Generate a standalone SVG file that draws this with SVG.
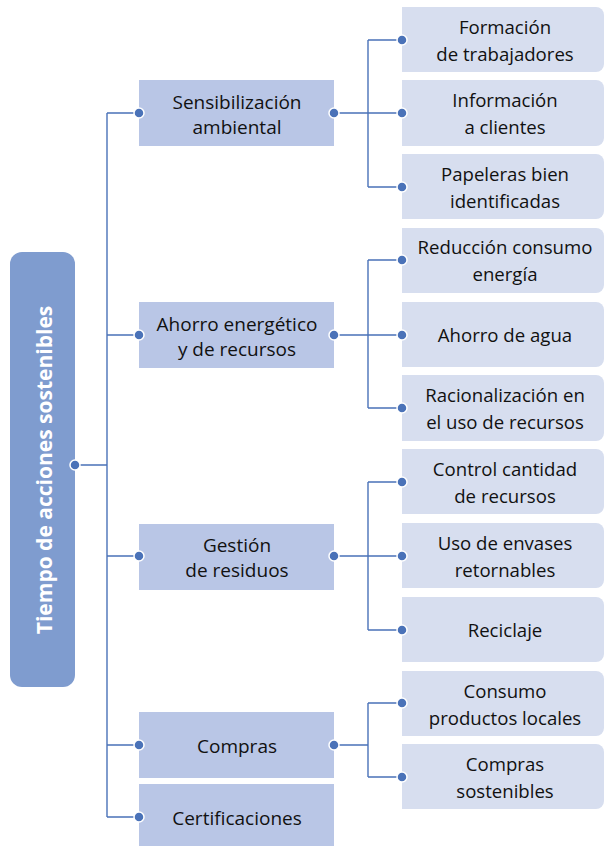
<svg xmlns="http://www.w3.org/2000/svg" width="604" height="846" viewBox="0 0 604 846">
<style>
.mid{fill:#b9c6e6}
.leaf{fill:#d7deef}
.t{font-family:"Open Sans","Liberation Sans",sans-serif;font-size:19px;fill:#111111;text-anchor:middle}
.lt{font-family:"Open Sans","Liberation Sans",sans-serif;font-size:18.6px;fill:#111111;text-anchor:middle}
.ln{fill:none;stroke:#4a72b8;stroke-width:1.4}
.dot{fill:#4a72b8;stroke:#ffffff;stroke-width:1.5}
</style>
<rect width="604" height="846" fill="#ffffff"/>
<g id="connectors">
<path class="ln" d="M75,465H107M107,113V817M107,113H139M107,335H139M107,556H139M107,745H139M107,817H139"/>
<path class="ln" d="M334,113H402M368,40V187M368,40H402M368,187H402"/>
<path class="ln" d="M334,335H402M368,260V408M368,260H402M368,408H402"/>
<path class="ln" d="M334,556H402M368,482V630M368,482H402M368,630H402"/>
<path class="ln" d="M334,745H368M368,703V777M368,703H402M368,777H402"/>
</g>
<g id="root">
<rect x="10" y="252" width="65" height="435" rx="12" fill="#7f9ccf"/>
<text transform="translate(51.5,470) rotate(-90)" style="font-family:'Open Sans','Liberation Sans',sans-serif;font-size:21px;font-weight:bold;fill:#ffffff;text-anchor:middle">Tiempo de acciones sostenibles</text>
<circle class="dot" cx="75" cy="465" r="5"/>
</g>
<g id="m1"><rect class="mid" x="139" y="80" width="195" height="66"/><text class="t" x="237" y="109">Sensibilización</text><text class="t" x="237" y="134">ambiental</text><circle class="dot" cx="139" cy="113" r="5"/><circle class="dot" cx="334" cy="113" r="5"/></g>
<g id="m2"><rect class="mid" x="139" y="302" width="195" height="66"/><text class="t" x="237" y="331">Ahorro energético</text><text class="t" x="237" y="356">y de recursos</text><circle class="dot" cx="139" cy="335" r="5"/><circle class="dot" cx="334" cy="335" r="5"/></g>
<g id="m3"><rect class="mid" x="139" y="524" width="195" height="66"/><text class="t" x="237" y="552">Gestión</text><text class="t" x="237" y="577">de residuos</text><circle class="dot" cx="139" cy="556" r="5"/><circle class="dot" cx="334" cy="556" r="5"/></g>
<g id="m4"><rect class="mid" x="139" y="712" width="195" height="66"/><text class="t" x="237" y="753">Compras</text><circle class="dot" cx="139" cy="745" r="5"/><circle class="dot" cx="334" cy="745" r="5"/></g>
<g id="m5"><rect class="mid" x="139" y="784" width="195" height="66"/><text class="t" x="237" y="825">Certificaciones</text><circle class="dot" cx="139" cy="817" r="5"/></g>
<g id="l1"><path class="leaf" d="M402,7H596A8,8 0 0 1 604,15V64A8,8 0 0 1 596,72H402Z"/><text class="lt" x="505" y="34">Formación</text><text class="lt" x="505" y="61">de trabajadores</text><circle class="dot" cx="402" cy="40" r="5"/></g>
<g id="l2"><path class="leaf" d="M402,80H596A8,8 0 0 1 604,88V138A8,8 0 0 1 596,146H402Z"/><text class="lt" x="505" y="107">Información</text><text class="lt" x="505" y="134">a clientes</text><circle class="dot" cx="402" cy="113" r="5"/></g>
<g id="l3"><path class="leaf" d="M402,154H596A8,8 0 0 1 604,162V211A8,8 0 0 1 596,219H402Z"/><text class="lt" x="505" y="181">Papeleras bien</text><text class="lt" x="505" y="208">identificadas</text><circle class="dot" cx="402" cy="187" r="5"/></g>
<g id="l4"><path class="leaf" d="M402,228H596A8,8 0 0 1 604,236V285A8,8 0 0 1 596,293H402Z"/><text class="lt" x="505" y="254">Reducción consumo</text><text class="lt" x="505" y="281">energía</text><circle class="dot" cx="402" cy="260" r="5"/></g>
<g id="l5"><path class="leaf" d="M402,302H596A8,8 0 0 1 604,310V359A8,8 0 0 1 596,367H402Z"/><text class="lt" x="505" y="342">Ahorro de agua</text><circle class="dot" cx="402" cy="335" r="5"/></g>
<g id="l6"><path class="leaf" d="M402,375H596A8,8 0 0 1 604,383V433A8,8 0 0 1 596,441H402Z"/><text class="lt" x="505" y="402">Racionalización en</text><text class="lt" x="505" y="429">el uso de recursos</text><circle class="dot" cx="402" cy="408" r="5"/></g>
<g id="l7"><path class="leaf" d="M402,449H596A8,8 0 0 1 604,457V506A8,8 0 0 1 596,514H402Z"/><text class="lt" x="505" y="476">Control cantidad</text><text class="lt" x="505" y="503">de recursos</text><circle class="dot" cx="402" cy="482" r="5"/></g>
<g id="l8"><path class="leaf" d="M402,523H596A8,8 0 0 1 604,531V580A8,8 0 0 1 596,588H402Z"/><text class="lt" x="505" y="550">Uso de envases</text><text class="lt" x="505" y="577">retornables</text><circle class="dot" cx="402" cy="556" r="5"/></g>
<g id="l9"><path class="leaf" d="M402,597H596A8,8 0 0 1 604,605V654A8,8 0 0 1 596,662H402Z"/><text class="lt" x="505" y="637">Reciclaje</text><circle class="dot" cx="402" cy="630" r="5"/></g>
<g id="l10"><path class="leaf" d="M402,671H596A8,8 0 0 1 604,679V728A8,8 0 0 1 596,736H402Z"/><text class="lt" x="505" y="698">Consumo</text><text class="lt" x="505" y="725">productos locales</text><circle class="dot" cx="402" cy="703" r="5"/></g>
<g id="l11"><path class="leaf" d="M402,744H596A8,8 0 0 1 604,752V801A8,8 0 0 1 596,809H402Z"/><text class="lt" x="505" y="771">Compras</text><text class="lt" x="505" y="798">sostenibles</text><circle class="dot" cx="402" cy="777" r="5"/></g>
</svg>
